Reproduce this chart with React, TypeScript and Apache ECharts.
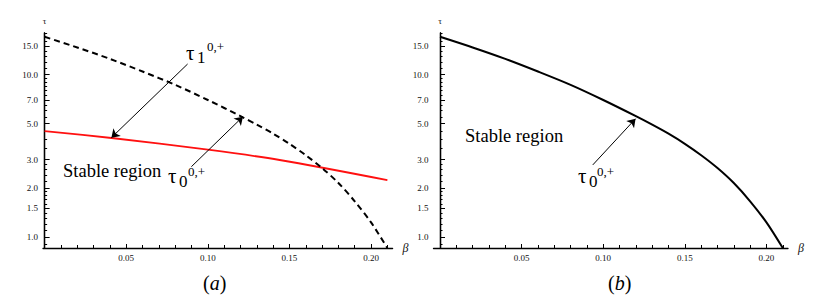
import React, { useEffect, useRef } from 'react';
import * as echarts from 'echarts';

// upper boundary curve (dashed in (a), solid in (b))
const betaUpper = [0, 0.02, 0.04, 0.06, 0.08, 0.1, 0.12, 0.13, 0.14, 0.15, 0.16, 0.17, 0.18, 0.19, 0.2, 0.21];
const tauUpper = [17.1, 14.7, 12.5, 10.45, 8.65, 6.98, 5.55, 4.92, 4.33, 3.75, 3.19, 2.66, 2.15, 1.66, 1.23, 0.855];

// red curve in (a)
const betaLower = [0, 0.041, 0.1, 0.144, 0.21];
const tauLower = [4.49, 4.07, 3.45, 2.98, 2.24];

const tauMajorTicks = [1.0, 1.5, 2.0, 3.0, 5.0, 7.0, 10.0, 15.0];
const tauMinorTicks = [0.9, 1.1, 1.2, 1.3, 1.4, 1.6, 1.7, 1.8, 1.9, 2.2, 2.4, 2.6, 2.8, 3.5, 4.0, 4.5, 5.5, 6.0, 6.5, 7.5, 8.0, 8.5, 9.0, 9.5, 11, 12, 13, 14, 16, 17, 18];
const betaMajorTicks = [0.05, 0.1, 0.15, 0.2];
const betaMinorTicks = [0.01, 0.02, 0.03, 0.04, 0.06, 0.07, 0.08, 0.09, 0.11, 0.12, 0.13, 0.14, 0.16, 0.17, 0.18, 0.19, 0.21];

// arrows: [fromBeta, fromTau, toBeta, toTau]
const arrowA1 = [0.0876, 11.62, 0.0409, 4.09];
const arrowA2 = [0.0899, 2.71, 0.1215, 5.51];
const arrowB = [0.0936, 2.78, 0.1198, 5.35];

const SERIF = "'Liberation Serif', 'Times New Roman', serif";
const lg = (v: number) => Math.log10(v);
const toPts = (bs: number[], ts: number[]) => bs.map((b, i) => [b, lg(ts[i])]);

const Y_MIN = -0.0677;
const Y_MAX = 1.2563;

function arrowLine(a: number[]) {
  return [
    { coord: [a[0], lg(a[1])], symbol: 'none' },
    { coord: [a[2], lg(a[3])], symbol: 'arrow' },
  ];
}

export default function App() {
  const ref = useRef<HTMLDivElement>(null);
  useEffect(() => {
    if (!ref.current) return;
    const chart = echarts.init(ref.current, undefined, { renderer: 'svg' });
    const axisLineStyle = { color: '#000', width: 1.3 };
    const gridA = { left: 43, top: 33, width: 349.6, height: 215 };
    const gridB = { left: 433.5, top: 33, width: 354.5, height: 215 };
    const xRanges = [[-0.001, 0.2132], [-0.004, 0.2132]];

    const mainX = (i: number) => ({
      type: 'value', gridIndex: i, min: xRanges[i][0], max: xRanges[i][1],
      axisLine: { onZero: false, lineStyle: axisLineStyle },
      axisTick: { customValues: betaMajorTicks, inside: true, length: 4, lineStyle: { color: '#000', width: 1 } },
      axisLabel: { customValues: betaMajorTicks, formatter: (v: number) => v.toFixed(2), fontSize: 9, fontFamily: SERIF, color: '#111', margin: 5 },
      splitLine: { show: false },
      name: 'β', nameLocation: 'end', nameGap: 10,
      nameTextStyle: { fontFamily: SERIF, fontStyle: 'italic', fontSize: 12, color: '#111', padding: [0, 0, 4, 0] },
    });
    const minorX = (i: number) => ({
      type: 'value', gridIndex: i + 2, min: xRanges[i][0], max: xRanges[i][1],
      axisLine: { show: false, onZero: false },
      axisTick: { customValues: betaMinorTicks, inside: true, length: 3, lineStyle: { color: '#000', width: 1 } },
      axisLabel: { show: false },
      splitLine: { show: false },
    });
    const mainY = (i: number) => ({
      type: 'value', gridIndex: i, min: Y_MIN, max: Y_MAX,
      axisLine: { onZero: true, lineStyle: axisLineStyle },
      axisTick: { customValues: tauMajorTicks.map(lg), inside: true, length: 5, lineStyle: { color: '#000', width: 1 } },
      axisLabel: { customValues: tauMajorTicks.map(lg), formatter: (v: number) => Math.pow(10, v).toFixed(1), fontSize: 9, fontFamily: SERIF, color: '#111', margin: 5 },
      splitLine: { show: false },
      name: 'τ', nameLocation: 'end', nameGap: 8,
      nameTextStyle: { fontFamily: SERIF, fontSize: 9, color: '#111' },
    });
    const minorY = (i: number) => ({
      type: 'value', gridIndex: i + 2, min: Y_MIN, max: Y_MAX,
      axisLine: { onZero: true, lineStyle: axisLineStyle },
      axisTick: { customValues: tauMinorTicks.map(lg), inside: true, length: 2.5, lineStyle: { color: '#000', width: 1 } },
      axisLabel: { show: false },
      splitLine: { show: false },
    });

    const arrowMark = (arrows: number[][]) => ({
      silent: true,
      symbol: ['none', 'arrow'],
      symbolSize: 8,
      label: { show: false },
      lineStyle: { color: '#000', width: 1, type: 'solid' },
      emphasis: { disabled: true },
      data: arrows.map(arrowLine),
    });

    const txt = (text: string, x: number, y: number, size: number, extra: any = {}) => ({
      type: 'text', x, y, silent: true,
      style: { text, fill: '#000', font: `${size}px ${SERIF}`, verticalAlign: 'middle', align: 'left', ...extra },
    });
    const caption = (letter: string, x: number) => ({
      type: 'text', x, y: 283, silent: true,
      style: {
        text: `{p|(}{i|${letter}}{p|)}`, verticalAlign: 'middle', align: 'left',
        rich: {
          p: { font: `20px ${SERIF}`, fill: '#000' },
          i: { font: `italic 20px ${SERIF}`, fill: '#000' },
        },
      },
    });

    chart.setOption({
      animation: false,
      backgroundColor: '#fff',
      grid: [gridA, gridB, gridA, gridB].map((g) => ({ ...g, containLabel: false, outerBoundsMode: 'none' })),
      xAxis: [mainX(0), mainX(1), minorX(0), minorX(1)],
      yAxis: [mainY(0), mainY(1), minorY(0), minorY(1)],
      series: [
        {
          name: 'τ1 (0,+)', type: 'line', xAxisIndex: 0, yAxisIndex: 0,
          data: toPts(betaUpper, tauUpper), showSymbol: false, smooth: 0.3,
          lineStyle: { color: '#000', width: 2, type: [6, 4] }, z: 3,
        },
        {
          name: 'τ0 (0,+)', type: 'line', xAxisIndex: 0, yAxisIndex: 0,
          data: toPts(betaLower, tauLower), showSymbol: false, smooth: 0.3,
          lineStyle: { color: '#ff1010', width: 1.8 }, z: 2,
          markLine: arrowMark([arrowA1, arrowA2]),
        },
        {
          name: 'τ0 (0,+) b', type: 'line', xAxisIndex: 1, yAxisIndex: 1,
          data: toPts(betaUpper, tauUpper), showSymbol: false, smooth: 0.3,
          lineStyle: { color: '#000', width: 2 },
          markLine: arrowMark([arrowB]),
        },
      ],
      graphic: [
        txt('Stable region', 63, 171, 18.5),
        txt('τ', 186, 53, 21),
        txt('1', 197, 57, 17),
        txt('0,+', 207, 46, 13),
        txt('τ', 168, 176, 21),
        txt('0', 179, 181, 17),
        txt('0,+', 188, 171, 13),
        txt('Stable region', 465, 136, 18.5),
        txt('τ', 578, 176, 21),
        txt('0', 589, 181, 17),
        txt('0,+', 597, 171, 13),
        caption('a', 203),
        caption('b', 608),
      ],
    });
    return () => chart.dispose();
  }, []);
  return (
    <div
      ref={ref}
      style={{ position: 'fixed', left: 0, top: 0, width: 818, height: 296, background: '#fff' }}
    />
  );
}
